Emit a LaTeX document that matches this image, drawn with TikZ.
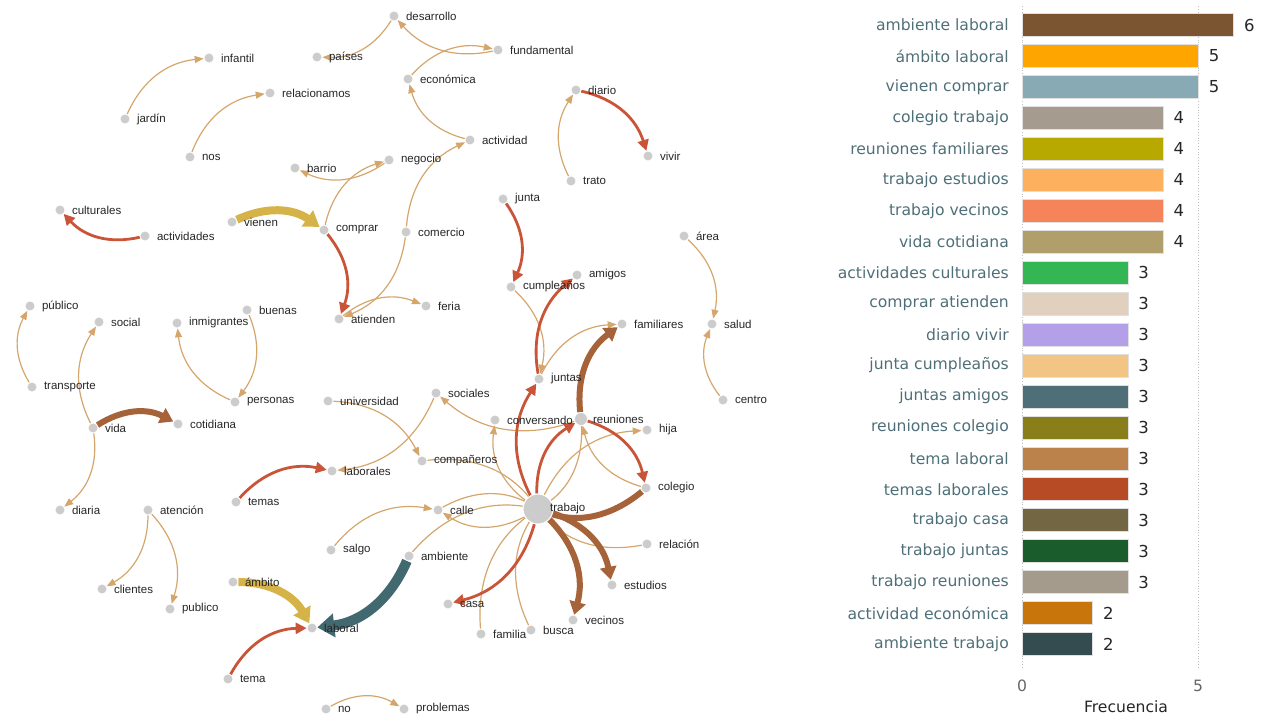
\documentclass[tikz,border=0pt]{standalone}
\usepackage{fontspec}
\setmainfont{Liberation Sans}
\newfontfamily\barfont{DejaVu Sans}
\usepackage{xcolor}
\usepackage{tikz}
\usetikzlibrary{arrows.meta, backgrounds}

\definecolor{dotgray}{RGB}{204,204,204}
\definecolor{linktan}{RGB}{212,166,108}
\definecolor{linkred}{RGB}{201,84,56}
\definecolor{linkbrown}{RGB}{166,98,56}
\definecolor{linkyellow}{RGB}{214,179,72}
\definecolor{linkteal}{RGB}{66,104,112}
\definecolor{barlabel}{RGB}{79,111,120}
\definecolor{barA}{RGB}{123,84,49}
\definecolor{barB}{RGB}{255,165,0}
\definecolor{barC}{RGB}{135,170,180}
\definecolor{barD}{RGB}{165,155,143}
\definecolor{barE}{RGB}{183,169,0}
\definecolor{barF}{RGB}{253,176,94}
\definecolor{barG}{RGB}{245,132,90}
\definecolor{barH}{RGB}{176,158,107}
\definecolor{barI}{RGB}{53,182,85}
\definecolor{barJ}{RGB}{224,208,189}
\definecolor{barK}{RGB}{179,160,232}
\definecolor{barL}{RGB}{242,197,133}
\definecolor{barM}{RGB}{79,111,120}
\definecolor{barN}{RGB}{138,126,26}
\definecolor{barO}{RGB}{188,130,75}
\definecolor{barP}{RGB}{182,75,38}
\definecolor{barQ}{RGB}{115,102,66}
\definecolor{barR}{RGB}{27,92,44}
\definecolor{barS}{RGB}{165,155,141}
\definecolor{barT}{RGB}{200,118,12}
\definecolor{barU}{RGB}{52,75,80}

\begin{document}
\begin{tikzpicture}[x=1pt, y=1pt,
    dot/.style={circle, fill=dotgray, draw=white, line width=0.7pt, inner sep=0pt, minimum size=10pt},
    word/.style={font=\fontsize{11.5}{13}\selectfont, text=black!85, inner sep=0pt, xshift=6.5pt},
    tanlink/.style={draw=linktan, line width=1.2pt, -{Triangle[length=9pt, width=7pt]}, bend left=30},
    redlink/.style={draw=linkred, line width=2.8pt, -{Triangle[length=11pt, width=11pt]}, bend left=30},
    brownlink/.style={draw=linkbrown, line width=6pt, -{Triangle[length=13pt, width=16pt]}, bend left=30},
    yellowlink/.style={draw=linkyellow, line width=8pt, -{Triangle[length=15pt, width=19pt]}, bend left=30},
    teallink/.style={draw=linkteal, line width=10pt, -{Triangle[length=17pt, width=23pt]}, bend left=30},
    bar/.style={anchor=west, draw=black!12, line width=0.6pt, inner sep=0pt, minimum height=23pt, minimum width=#1*35.2pt},
    barword/.style={font=\barfont\fontsize{15.6}{18}\selectfont, text=barlabel, inner sep=0pt, xshift=-13pt},
    barnum/.style={font=\barfont\fontsize{16.5}{19}\selectfont, text=black!85, inner sep=0pt, xshift=10pt},
    tick/.style={font=\barfont\fontsize{15.6}{18}\selectfont, inner sep=0pt},
    grid/.style={draw=black!25, dotted, line width=0.8pt}
]
    \useasboundingbox (0,0) rectangle (1261,-717);

    \node[dot, label={[word]right:desarrollo}] at (394,-16) (desarrollo) {};
    \node[dot, label={[word]right:países}] at (317,-57) (paises) {};
    \node[dot, label={[word]right:fundamental}] at (498,-50) (fundamental) {};
    \node[dot, label={[word]right:económica}] at (408,-79) (economica) {};
    \node[dot, label={[word]right:actividad}] at (470,-140) (actividad) {};
    \node[dot, label={[word]right:diario}] at (576,-90) (diario) {};
    \node[dot, label={[word]right:vivir}] at (648,-156) (vivir) {};
    \node[dot, label={[word]right:trato}] at (571,-181) (trato) {};
    \node[dot, label={[word]right:infantil}] at (209,-58) (infantil) {};
    \node[dot, label={[word]right:relacionamos}] at (270,-93) (relacionamos) {};
    \node[dot, label={[word]right:jardín}] at (125,-119) (jardin) {};
    \node[dot, label={[word]right:nos}] at (190,-157) (nos) {};
    \node[dot, label={[word]right:barrio}] at (295,-168) (barrio) {};
    \node[dot, label={[word]right:negocio}] at (389,-160) (negocio) {};
    \node[dot, label={[word]right:culturales}] at (60,-210) (culturales) {};
    \node[dot, label={[word]right:actividades}] at (145,-236) (actividades) {};
    \node[dot, label={[word]right:vienen}] at (232,-222) (vienen) {};
    \node[dot, label={[word]right:comprar}] at (324,-230) (comprar) {};
    \node[dot, label={[word]right:comercio}] at (406,-232) (comercio) {};
    \node[dot, label={[word]right:junta}] at (503,-199) (junta) {};
    \node[dot, label={[word]right:cumpleaños}] at (511,-287) (cumple) {};
    \node[dot, label={[word]right:amigos}] at (577,-275) (amigos) {};
    \node[dot, label={[word]right:área}] at (684,-236) (area) {};
    \node[dot, label={[word]right:salud}] at (712,-324) (salud) {};
    \node[dot, label={[word]right:familiares}] at (622,-324) (familiares) {};
    \node[dot, label={[word]right:feria}] at (426,-306) (feria) {};
    \node[dot, label={[word]right:atienden}] at (339,-319) (atienden) {};
    \node[dot, label={[word]right:público}] at (30,-306) (publicoA) {};
    \node[dot, label={[word]right:social}] at (99,-322) (social) {};
    \node[dot, label={[word]right:inmigrantes}] at (177,-323) (inmigrantes) {};
    \node[dot, label={[word]right:buenas}] at (247,-310) (buenas) {};
    \node[dot, label={[word]right:transporte}] at (32,-387) (transporte) {};
    \node[dot, label={[word]right:personas}] at (235,-402) (personas) {};
    \node[dot, label={[word]right:centro}] at (723,-400) (centro) {};
    \node[dot, label={[word]right:juntas}] at (539,-379) (juntas) {};
    \node[dot, label={[word]right:vida}] at (93,-428) (vida) {};
    \node[dot, label={[word]right:cotidiana}] at (178,-424) (cotidiana) {};
    \node[dot, label={[word]right:universidad}] at (328,-401) (universidad) {};
    \node[dot, label={[word]right:sociales}] at (436,-393) (sociales) {};
    \node[dot, label={[word]right:conversando}] at (495,-420) (conversando) {};
    \node[dot, minimum size=13pt, label={[word, xshift=-1.5pt]right:reuniones}] at (581,-419) (reuniones) {};
    \node[dot, label={[word]right:hija}] at (647,-430) (hija) {};
    \node[dot, label={[word]right:compañeros}] at (422,-461) (companeros) {};
    \node[dot, label={[word]right:laborales}] at (332,-471) (laborales) {};
    \node[dot, label={[word]right:temas}] at (236,-502) (temas) {};
    \node[dot, label={[word]right:colegio}] at (646,-488) (colegio) {};
    \node[dot, minimum size=30pt, line width=1pt, label={[word, xshift=-10pt]right:trabajo}] at (538,-509) (trabajo) {};
    \node[dot, label={[word]right:calle}] at (438,-510) (calle) {};
    \node[dot, label={[word]right:salgo}] at (331,-550) (salgo) {};
    \node[dot, label={[word]right:ambiente}] at (409,-556) (ambiente) {};
    \node[dot, label={[word]right:relación}] at (647,-544) (relacion) {};
    \node[dot, label={[word]right:diaria}] at (60,-510) (diaria) {};
    \node[dot, label={[word]right:atención}] at (148,-510) (atencion) {};
    \node[dot, label={[word]right:estudios}] at (612,-585) (estudios) {};
    \node[dot, label={[word]right:clientes}] at (102,-589) (clientes) {};
    \node[dot, label={[word]right:publico}] at (170,-609) (publicoB) {};
    \node[dot, label={[word]right:ámbito}] at (233,-582) (ambito) {};
    \node[dot, label={[word]right:casa}] at (448,-604) (casa) {};
    \node[dot, label={[word]right:vecinos}] at (573,-620) (vecinos) {};
    \node[dot, label={[word]right:laboral}] at (312,-628) (laboral) {};
    \node[dot, label={[word]right:familia}] at (481,-634) (familia) {};
    \node[dot, label={[word]right:busca}] at (531,-630) (busca) {};
    \node[dot, label={[word]right:tema}] at (228,-679) (tema) {};
    \node[dot, label={[word]right:no}] at (326,-709) (no) {};
    \node[dot, label={[word]right:problemas}] at (404,-709) (problemas) {};

    \begin{scope}[on background layer]
        \draw[tanlink] (desarrollo) to (paises);
        \draw[tanlink] (fundamental) to (desarrollo);
        \draw[tanlink] (economica) to (fundamental);
        \draw[tanlink] (actividad) to (economica);
        \draw[tanlink] (comercio) to (actividad);
        \draw[tanlink] (trato) to (diario);
        \draw[tanlink] (jardin) to (infantil);
        \draw[tanlink] (nos) to (relacionamos);
        \draw[tanlink] (negocio) to (barrio);
        \draw[tanlink] (comprar) to (negocio);
        \draw[tanlink] (comercio) to (atienden);
        \draw[tanlink] (atienden) to (feria);
        \draw[tanlink] (cumple) to (juntas);
        \draw[tanlink] (juntas) to (familiares);
        \draw[tanlink] (area) to (salud);
        \draw[tanlink] (centro) to (salud);
        \draw[tanlink] (transporte) to (publicoA);
        \draw[tanlink] (vida) to (social);
        \draw[tanlink] (vida) to (diaria);
        \draw[tanlink] (personas) to (inmigrantes);
        \draw[tanlink] (buenas) to (personas);
        \draw[tanlink] (universidad) to (companeros);
        \draw[tanlink] (sociales) to (laborales);
        \draw[tanlink] (reuniones) to (sociales);
        \draw[tanlink] (trabajo) to (conversando);
        \draw[tanlink] (reuniones) to (trabajo.center);
        \draw[tanlink] (colegio) to (reuniones);
        \draw[tanlink] (trabajo) to (hija);
        \draw[tanlink] (companeros) to (trabajo.center);
        \draw[tanlink] (trabajo) to (calle);
        \draw[tanlink] (calle) to (trabajo.center);
        \draw[tanlink] (salgo) to (calle);
        \draw[tanlink] (ambiente) to (trabajo.center);
        \draw[tanlink] (familia) to (trabajo.center);
        \draw[tanlink] (busca) to (trabajo.center);
        \draw[tanlink] (relacion) to (trabajo.center);
        \draw[tanlink] (atencion) to (clientes);
        \draw[tanlink] (atencion) to (publicoB);
        \draw[tanlink] (no) to (problemas);

        \draw[redlink] (diario) to (vivir);
        \draw[redlink] (actividades) to (culturales);
        \draw[redlink] (comprar) to (atienden);
        \draw[redlink] (junta) to (cumple);
        \draw[redlink] (juntas) to (amigos);
        \draw[redlink] (trabajo) to (juntas);
        \draw[redlink] (trabajo) to (reuniones);
        \draw[redlink] (reuniones) to (colegio);
        \draw[redlink] (temas) to (laborales);
        \draw[redlink] (tema) to (laboral);
        \draw[redlink] (trabajo) to (casa);

        \draw[brownlink] (reuniones) to (familiares);
        \draw[brownlink] (vida) to (cotidiana);
        \draw[brownlink] (colegio) to (trabajo.center);
        \draw[brownlink] (trabajo) to (estudios);
        \draw[brownlink] (trabajo) to (vecinos);

        \draw[yellowlink] (vienen) to (comprar);
        \draw[yellowlink] (ambito) to (laboral);
        \draw[teallink] (ambiente) to (laboral);

        \draw[grid] (1022,-6) -- (1022,-668);
        \draw[grid] (1198,-6) -- (1198,-668);
    \end{scope}

    \node[bar=6, fill=barA, label={[barword]left:ambiente laboral}, label={[barnum]right:6}] at (1022,-25) (ambLaboral) {};
    \node[bar=5, fill=barB, label={[barword]left:ámbito laboral}, label={[barnum]right:5}] at (1022,-56) (ambitoLaboral) {};
    \node[bar=5, fill=barC, label={[barword]left:vienen comprar}, label={[barnum]right:5}] at (1022,-86.9) (vienenComprar) {};
    \node[bar=4, fill=barD, label={[barword]left:colegio trabajo}, label={[barnum]right:4}] at (1022,-117.85) (colegioTrabajo) {};
    \node[bar=4, fill=barE, label={[barword]left:reuniones familiares}, label={[barnum]right:4}] at (1022,-148.8) (reunionesFam) {};
    \node[bar=4, fill=barF, label={[barword]left:trabajo estudios}, label={[barnum]right:4}] at (1022,-179.75) (trabajoEst) {};
    \node[bar=4, fill=barG, label={[barword]left:trabajo vecinos}, label={[barnum]right:4}] at (1022,-210.7) (trabajoVec) {};
    \node[bar=4, fill=barH, label={[barword]left:vida cotidiana}, label={[barnum]right:4}] at (1022,-241.65) (vidaCot) {};
    \node[bar=3, fill=barI, label={[barword]left:actividades culturales}, label={[barnum]right:3}] at (1022,-272.6) (actCult) {};
    \node[bar=3, fill=barJ, label={[barword]left:comprar atienden}, label={[barnum]right:3}] at (1022,-303.55) (comprarAt) {};
    \node[bar=3, fill=barK, label={[barword]left:diario vivir}, label={[barnum]right:3}] at (1022,-334.5) (diarioViv) {};
    \node[bar=3, fill=barL, label={[barword]left:junta cumpleaños}, label={[barnum]right:3}] at (1022,-365.45) (juntaCumple) {};
    \node[bar=3, fill=barM, label={[barword]left:juntas amigos}, label={[barnum]right:3}] at (1022,-396.4) (juntasAmigos) {};
    \node[bar=3, fill=barN, label={[barword]left:reuniones colegio}, label={[barnum]right:3}] at (1022,-427.35) (reunionesCol) {};
    \node[bar=3, fill=barO, label={[barword]left:tema laboral}, label={[barnum]right:3}] at (1022,-458.3) (temaLab) {};
    \node[bar=3, fill=barP, label={[barword]left:temas laborales}, label={[barnum]right:3}] at (1022,-489.25) (temasLab) {};
    \node[bar=3, fill=barQ, label={[barword]left:trabajo casa}, label={[barnum]right:3}] at (1022,-520.2) (trabajoCasa) {};
    \node[bar=3, fill=barR, label={[barword]left:trabajo juntas}, label={[barnum]right:3}] at (1022,-551.15) (trabajoJuntas) {};
    \node[bar=3, fill=barS, label={[barword]left:trabajo reuniones}, label={[barnum]right:3}] at (1022,-582.1) (trabajoReun) {};
    \node[bar=2, fill=barT, label={[barword]left:actividad económica}, label={[barnum]right:2}] at (1022,-613.05) (actEcon) {};
    \node[bar=2, fill=barU, label={[barword]left:ambiente trabajo}, label={[barnum]right:2}] at (1022,-644) (ambTrabajo) {};

    \node[tick, text=black!60] at (1022,-686) (tickZero) {0};
    \node[tick, text=black!60] at (1198,-686) (tickFive) {5};
    \node[tick, text=black!85] at (1126,-707) (axisTitle) {Frecuencia};
\end{tikzpicture}
\end{document}
